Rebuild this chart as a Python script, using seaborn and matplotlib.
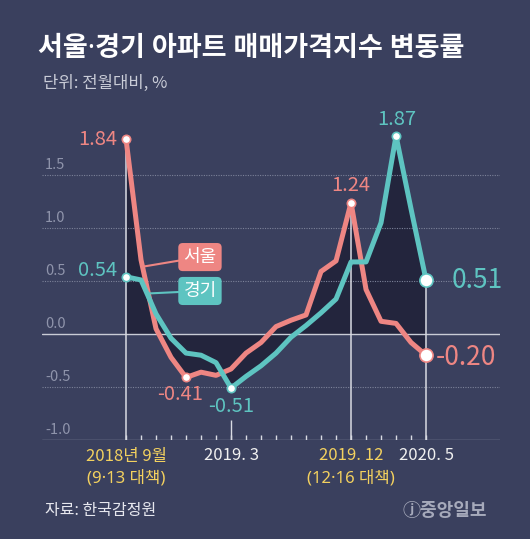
import numpy as np
import pandas as pd
import matplotlib
matplotlib.use("Agg")
import matplotlib.pyplot as plt
import seaborn as sns

# ─── data: monthly change of apartment price index, % (2018.9 ~ 2020.5) ──────
months = list(range(21))
seoul = [1.84, 0.70, 0.05, -0.22, -0.41, -0.36, -0.39, -0.33, -0.18, -0.08, 0.07,
         0.13, 0.18, 0.59, 0.69, 1.24, 0.42, 0.12, 0.10, -0.08, -0.20]
gyeonggi = [0.54, 0.51, 0.19, -0.04, -0.18, -0.20, -0.27, -0.51, -0.40, -0.30, -0.18,
            -0.03, 0.08, 0.20, 0.33, 0.68, 0.68, 1.05, 1.87, 1.18, 0.51]

tick_pos = [0, 7, 15, 20]
tick_top = ["2018년 9월", "2019. 3", "2019. 12", "2020. 5"]
tick_sub = ["(9·13 대책)", "", "(12·16 대책)", ""]
policy_pos = [0, 15]           # yellow labels (policy announcements)
guide_pos = [0, 15, 20]        # vertical white guides

seoul_marks = [0, 4, 15, 20]
gyeonggi_marks = [0, 7, 18, 20]
yticks = [-1.0, -0.5, 0.0, 0.5, 1.0, 1.5]

# ─── colours / fonts ──────────────────────────────────────────────────────────
BG = "#3a405e"
FILL = "#23253d"
RED = "#ee8683"
TEAL = "#5ec4c1"
YEL = "#f3d15f"
MIXED = ["Noto Sans", "Noto Sans CJK KR"]   # narrow latin dot/space, hangul from CJK

sns.set_style("dark", {"axes.facecolor": BG, "figure.facecolor": BG})
plt.rcParams["font.family"] = ["Noto Sans CJK KR", "DejaVu Sans"]

fig = plt.figure(figsize=(5.30, 5.39), dpi=100)
ax = fig.add_axes([42 / 530, 1 - 440 / 539, 458 / 530, 340 / 539])
ax.set_xlim(-5.6, 24.93)
ax.set_ylim(-1.0, 2.208)

# dark area between zero and each series
ax.fill_between(months, 0, seoul, color=FILL, lw=0, zorder=1)
ax.fill_between(months, 0, gyeonggi, color=FILL, lw=0, zorder=1)

# grid
for v in yticks:
    if v == 0.0:
        ax.axhline(v, color="#c9ccd6", lw=1.0, zorder=2)
    elif v == -1.0:
        ax.axhline(v, color="#8e93a8", lw=1.0, zorder=2)
    else:
        ax.axhline(v, color="#7c8299", lw=0.8, ls=(0, (1, 1.2)), zorder=2)
    ax.text(-5.4, v + 0.03, f"{v:.1f}", ha="left", va="bottom",
            color="#8f94ab", fontsize=10.5, zorder=3)

# vertical guides and small month ticks
for i in guide_pos:
    ax.vlines(i, -1.0, max(seoul[i], gyeonggi[i]), color="#d9dbe3", lw=1.1, zorder=2.5)
ax.vlines(months, -1.0, -0.95, color="#d9dbe3", lw=1.0, zorder=2.5)
ax.vlines(tick_pos[1], -1.0, -0.81, color="#d9dbe3", lw=1.0, zorder=2.5)

# lines
df = pd.DataFrame({"month": months, "서울": seoul, "경기": gyeonggi})
df = df.melt("month", var_name="region", value_name="change")
sns.lineplot(data=df, x="month", y="change", hue="region", hue_order=["서울", "경기"],
             palette={"서울": RED, "경기": TEAL}, lw=3.6, legend=False, ax=ax, zorder=4)
ax.set_axis_off()

# highlighted points
label_off = {  # (dx, dy, ha, fontsize) in pixels
    ("s", 0): (-9, 0, "right", 14.5),
    ("s", 4): (-6, -17, "center", 14.5),
    ("s", 15): (0, 17, "center", 14.5),
    ("s", 20): (10, -2, "left", 19),
    ("g", 0): (-9, 6, "right", 14.5),
    ("g", 7): (0, -18, "center", 14.5),
    ("g", 18): (1, 16, "center", 14.5),
    ("g", 20): (26, -1, "left", 19),
}
for key, vals, marks, col in [("s", seoul, seoul_marks, RED), ("g", gyeonggi, gyeonggi_marks, TEAL)]:
    for i in marks:
        big = i == months[-1]
        ax.plot([i], [vals[i]], "o", ms=9.5 if big else 6, mfc="white", mec=col,
                mew=1.2, zorder=6)
        dx, dy, ha, fs = label_off[(key, i)]
        ax.annotate(f"{vals[i]:.2f}", (i, vals[i]), xytext=(dx, dy),
                    textcoords="offset pixels", ha=ha, va="center",
                    color=col, fontsize=fs, zorder=7)

# legend tags with connectors
for name, vals, col, tx, ty, at in [("서울", seoul, RED, 4.93, 0.726, 1.1),
                                    ("경기", gyeonggi, TEAL, 4.93, 0.406, 1.4)]:
    ax.annotate(name, (at, np.interp(at, months, vals)), xytext=(tx, ty),
                ha="center", va="center", color="white", fontsize=13, zorder=8,
                bbox=dict(boxstyle="round,pad=0.28,rounding_size=0.25", fc=col, ec="none"),
                arrowprops=dict(arrowstyle="-", color=col, lw=1.5, shrinkA=0, shrinkB=0))

# x labels
for p, top, sub in zip(tick_pos, tick_top, tick_sub):
    col = YEL if p in policy_pos else "#f0f0f0"
    ax.annotate(top, (p, -1.0), xytext=(0, -16), textcoords="offset pixels",
                ha="center", va="center", color=col, fontsize=12, annotation_clip=False)
    if sub:
        ax.annotate(sub, (p, -1.0), xytext=(0, -38), textcoords="offset pixels",
                    ha="center", va="center", color=col, fontsize=12, family=MIXED,
                    annotation_clip=False)

# titles and footer
fig.text(38 / 530, 1 - 49 / 539, "서울·경기 아파트 매매가격지수 변동률", ha="left", va="center",
         color="white", fontsize=19.5, fontweight="bold", family=MIXED)
fig.text(43 / 530, 1 - 83 / 539, "단위: 전월대비, %", ha="left", va="center",
         color="#c9ccd7", fontsize=12)
fig.text(45 / 530, 1 - 510 / 539, "자료: 한국감정원", ha="left", va="center",
         color="#e6e7ee", fontsize=11.5)
fig.text(487 / 530, 1 - 510 / 539, "ⓙ중앙일보", ha="right", va="center",
         color="#a6aabb", fontsize=13, fontweight="bold")

fig.savefig("out.png", dpi=100, facecolor=BG)
